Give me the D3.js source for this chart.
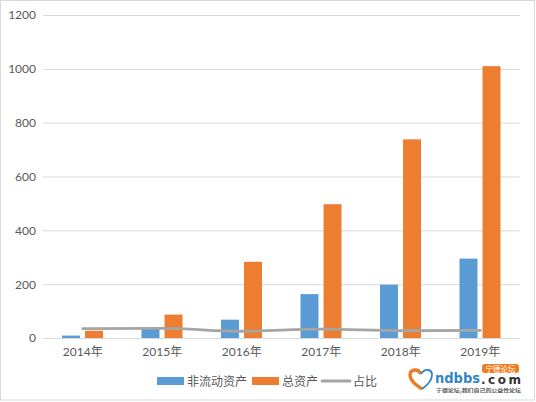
<!DOCTYPE html>
<html>
<head>
<meta charset="utf-8">
<script src="https://cdn.jsdelivr.net/npm/d3@7"></script>
<style>
html, body { margin: 0; padding: 0; background: #fff; }
svg { display: block; }
</style>
</head>
<body>
<script>
var years = ["2014年", "2015年", "2016年", "2017年", "2018年", "2019年"];
var nonCurrent = [9, 35, 68, 163, 198, 295];
var totalAssets = [27, 87, 283, 497, 738, 1010];
var ratio = [35, 36, 25, 33, 27, 28];
var yTicks = [0, 200, 400, 600, 800, 1000, 1200];
var seriesNames = ["非流动资产", "总资产", "占比"];

var outerWidth = 536;
var outerHeight = 402;
var blue = "#5B9BD5";
var orange = "#ED7D31";
var gray = "#A5A5A5";
var textColor = "#595959";
var cjkFont = '"Noto Sans CJK SC", sans-serif';
var latinFont = 'Lato, "Noto Sans CJK SC", sans-serif';

var svg = d3.select("body").append("svg")
    .attr("width", outerWidth)
    .attr("height", outerHeight);

// picture frame
svg.append("rect")
    .attr("x", 0.5).attr("y", 0.5)
    .attr("width", 534).attr("height", 399.5)
    .attr("fill", "#fff")
    .attr("stroke", "#d9d9d9");

var x = d3.scaleBand().domain(years).range([43, 520]);
var xSeries = d3.scaleBand()
    .domain(["nonCurrent", "total"])
    .range([19, 60])
    .paddingInner(0.22);
var y = d3.scaleLinear().domain([0, 1200]).range([338, 15]);

// gridlines
svg.append("g").selectAll("line")
    .data(yTicks)
    .enter().append("line")
    .attr("x1", 43)
    .attr("x2", 520)
    .attr("y1", function(d) { return y(d) + 0.5; })
    .attr("y2", function(d) { return y(d) + 0.5; })
    .attr("stroke", "#d9d9d9");

// axis labels
var yAxis = d3.axisLeft(y).tickValues(yTicks).tickFormat(d3.format("d")).tickSize(0).tickPadding(7);
var yG = svg.append("g").attr("transform", "translate(43,0)").call(yAxis);
yG.select(".domain").remove();
yG.selectAll("text").attr("font-size", 12).attr("fill", textColor)
    .style("font-family", latinFont);

var xAxis = d3.axisBottom(x).tickSize(0).tickPadding(9);
var xG = svg.append("g").attr("transform", "translate(0,338)").call(xAxis);
xG.select(".domain").remove();
xG.selectAll("text").attr("font-size", 12).attr("fill", textColor)
    .style("font-family", latinFont);

// bars
svg.append("g").selectAll("rect")
    .data(nonCurrent)
    .enter().append("rect")
    .attr("x", function(d, i) { return x(years[i]) + xSeries("nonCurrent"); })
    .attr("y", function(d) { return y(d); })
    .attr("width", xSeries.bandwidth())
    .attr("height", function(d) { return y(0) - y(d); })
    .attr("fill", blue);

svg.append("g").selectAll("rect")
    .data(totalAssets)
    .enter().append("rect")
    .attr("x", function(d, i) { return x(years[i]) + xSeries("total"); })
    .attr("y", function(d) { return y(d); })
    .attr("width", xSeries.bandwidth())
    .attr("height", function(d) { return y(0) - y(d); })
    .attr("fill", orange);

// ratio line
var line = d3.line()
    .x(function(d, i) { return x(years[i]) + x.bandwidth() / 2; })
    .y(function(d) { return y(d); })
    .curve(d3.curveMonotoneX);

svg.append("path")
    .datum(ratio)
    .attr("d", line)
    .attr("fill", "none")
    .attr("stroke", gray)
    .attr("stroke-width", 2.8)
    .attr("stroke-linecap", "round");

// legend
var legend = svg.append("g");
legend.append("rect").attr("x", 157).attr("y", 377).attr("width", 27).attr("height", 8).attr("fill", blue);
legend.append("text").attr("x", 187).attr("y", 386).text(seriesNames[0]);
legend.append("rect").attr("x", 252).attr("y", 377).attr("width", 27).attr("height", 8).attr("fill", orange);
legend.append("text").attr("x", 282).attr("y", 386).text(seriesNames[1]);
legend.append("line").attr("x1", 322).attr("x2", 350).attr("y1", 381).attr("y2", 381)
    .attr("stroke", gray).attr("stroke-width", 2.8).attr("stroke-linecap", "round");
legend.append("text").attr("x", 353).attr("y", 386).text(seriesNames[2]);
legend.selectAll("text").attr("font-size", 12).attr("fill", textColor)
    .style("font-family", cjkFont);

// watermark logo
var logo = svg.append("g");
logo.append("path")
    .attr("d", "M422 389C414 384 410 379 410 375C410 369 418 368 421 374")
    .attr("fill", "none").attr("stroke", "#ED7D22").attr("stroke-width", 3.4);
logo.append("path")
    .attr("d", "M422 389C429 384 432 379 432 375C432 369 425 368 421 374")
    .attr("fill", "none").attr("stroke", "#2E86C8").attr("stroke-width", 1.8);
logo.append("text").attr("x", 435).attr("y", 383).text("ndbbs")
    .attr("font-size", 14).attr("font-weight", 700).attr("fill", "#2E86C8")
    .style("font-family", '"DejaVu Sans", sans-serif')
    .attr("textLength", 45).attr("lengthAdjust", "spacingAndGlyphs");
logo.append("text").attr("x", 481).attr("y", 384).text(".com")
    .attr("font-size", 12).attr("font-weight", 700).attr("fill", "#333")
    .style("font-family", '"DejaVu Sans", sans-serif')
    .attr("textLength", 40).attr("lengthAdjust", "spacing");
logo.append("rect").attr("x", 482).attr("y", 364).attr("width", 37).attr("height", 9).attr("rx", 3).attr("fill", "#ED7D22");
logo.append("text").attr("x", 500.5).attr("y", 371.5).text("宁德论坛")
    .attr("text-anchor", "middle").attr("font-size", 7.5).attr("fill", "#fff")
    .style("font-family", cjkFont);
logo.append("text").attr("x", 436).attr("y", 392).text("宁德论坛,我们自己的公益性论坛")
    .attr("font-size", 5).attr("font-weight", 700).attr("fill", "#555")
    .style("font-family", cjkFont)
    .attr("textLength", 85).attr("lengthAdjust", "spacingAndGlyphs");
</script>
</body>
</html>
